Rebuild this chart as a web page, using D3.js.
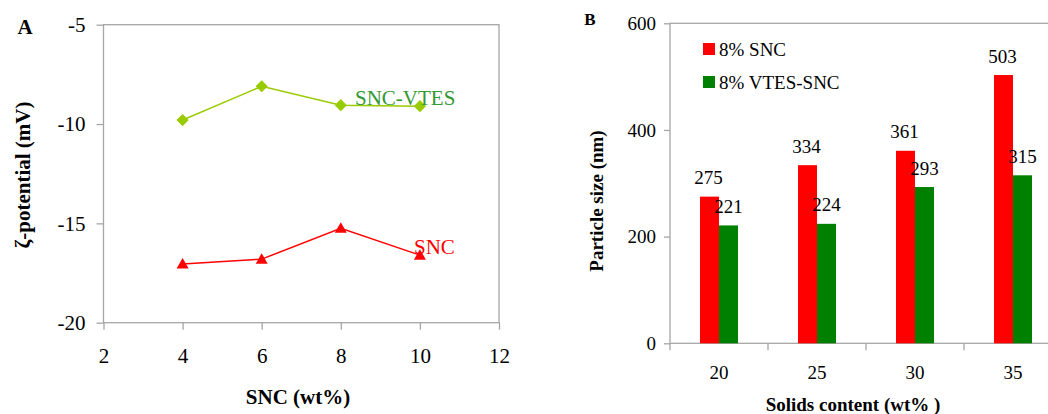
<!DOCTYPE html>
<html>
<head>
<meta charset="utf-8">
<script src="https://cdn.jsdelivr.net/npm/d3@7"></script>
<style>
  body { margin: 0; background: #fff; }
  svg, svg text { font-family: "Liberation Serif", "Times New Roman", serif; }
  .frame { fill: none; stroke: #a6a6a6; stroke-width: 1.3; }
  .axis path, .axis line { stroke: #a6a6a6; stroke-width: 1.3; }
  .axis text { fill: #000; }
</style>
</head>
<body>
<div id="chart"></div>
<script>
// panel A: zeta potential vs SNC loading
const snc = [4, 6, 8, 10];
const zetaVtes = [-9.8, -8.1, -9.05, -9.1];
const zetaSnc = [-17.05, -16.8, -15.25, -16.6];
const xTicksA = [2, 4, 6, 8, 10, 12];
const yTicksA = [-20, -15, -10, -5];

// panel B: particle size vs solids content
const solids = ["20", "25", "30", "35"];
const sizeSnc = [275, 334, 361, 503];
const sizeVtes = [221, 224, 293, 315];
const yTicksB = [0, 200, 400, 600];
const seriesB = ["8% SNC", "8% VTES-SNC"];

const FONT = '"Liberation Serif", "Times New Roman", serif';
const W = 1048, H = 414;
const svg = d3.select("#chart").append("svg").attr("width", W).attr("height", H);

// ---------- A ----------
const mA = { left: 103.5, top: 24.7, right: 499, bottom: 322.7 };
const xA = d3.scaleLinear().domain([2, 12]).range([mA.left, mA.right]);
const yA = d3.scaleLinear().domain([-20, -5]).range([mA.bottom, mA.top]);

const gA = svg.append("g");
gA.append("rect").attr("class", "frame")
  .attr("x", mA.left).attr("y", mA.top)
  .attr("width", mA.right - mA.left).attr("height", mA.bottom - mA.top);

gA.append("g").attr("class", "axis")
  .attr("transform", `translate(0,${mA.bottom})`)
  .call(d3.axisBottom(xA).tickValues(xTicksA).tickSize(7).tickPadding(18).tickFormat(d => String(d)))
  .call(g => g.selectAll("text").style("font-size", "21px"))
  .call(g => g.select(".domain").remove());

gA.append("g").attr("class", "axis")
  .attr("transform", `translate(${mA.left},0)`)
  .call(d3.axisLeft(yA).tickValues(yTicksA).tickSize(7).tickPadding(11).tickFormat(d => String(d)))
  .call(g => g.selectAll("text").style("font-size", "21px"))
  .call(g => g.select(".domain").remove());

const lineA = d3.line().x((d, i) => xA(snc[i])).y(d => yA(d));

gA.append("path").datum(zetaVtes)
  .attr("d", lineA).attr("fill", "none").attr("stroke", "#99cc00").attr("stroke-width", 1.5);
gA.append("path").datum(zetaSnc)
  .attr("d", lineA).attr("fill", "none").attr("stroke", "#ff0000").attr("stroke-width", 1.5);

gA.selectAll(".dia").data(zetaVtes).join("path")
  .attr("class", "dia")
  .attr("transform", (d, i) => `translate(${xA(snc[i])},${yA(d)}) rotate(45)`)
  .attr("d", "M-4.3,-4.3H4.3V4.3H-4.3Z")
  .attr("fill", "#99cc00");

gA.selectAll(".tri").data(zetaSnc).join("path")
  .attr("class", "tri")
  .attr("transform", (d, i) => `translate(${xA(snc[i])},${yA(d)})`)
  .attr("d", "M0,-6L6,4.5H-6Z")
  .attr("fill", "#ff0000");

gA.append("text").attr("x", 355).attr("y", 98).attr("dy", "0.35em")
  .style("font-size", "21px").attr("fill", "#339933").text("SNC-VTES");
gA.append("text").attr("x", 414).attr("y", 247).attr("dy", "0.35em")
  .style("font-size", "21px").attr("fill", "#ff0000").text("SNC");

gA.append("text").attr("x", 298).attr("y", 397).attr("dy", "0.35em")
  .attr("text-anchor", "middle").style("font-size", "21px").style("font-weight", "bold")
  .text("SNC (wt%)");
gA.append("text").attr("transform", "translate(23,175) rotate(-90)").attr("dy", "0.35em")
  .attr("text-anchor", "middle").style("font-size", "21px").style("font-weight", "bold")
  .text("ζ-potential (mV)");
gA.append("text").attr("x", 25).attr("y", 27).attr("dy", "0.35em")
  .attr("text-anchor", "middle").style("font-size", "21px").style("font-weight", "bold")
  .text("A");

// ---------- B ----------
const mB = { left: 670, top: 23.3, right: 1062, bottom: 343.3 };
const xB = d3.scaleBand().domain(solids).range([mB.left, mB.right]);
const sub = d3.scaleBand().domain([0, 1]).range([0, 38]);
const yB = d3.scaleLinear().domain([0, 600]).range([mB.bottom, mB.top]);

const gB = svg.append("g");
gB.append("rect").attr("class", "frame")
  .attr("x", mB.left).attr("y", mB.top)
  .attr("width", mB.right - mB.left).attr("height", mB.bottom - mB.top);

// category boundary ticks
gB.append("g").attr("class", "axis")
  .selectAll("line").data(solids).join("line")
  .attr("x1", d => xB(d)).attr("x2", d => xB(d))
  .attr("y1", mB.bottom).attr("y2", mB.bottom + 7);

gB.append("g").attr("class", "axis")
  .attr("transform", `translate(0,${mB.bottom})`)
  .call(d3.axisBottom(xB).tickSize(0).tickPadding(22))
  .call(g => g.selectAll("text").style("font-size", "19px"))
  .call(g => g.select(".domain").remove());

gB.append("g").attr("class", "axis")
  .attr("transform", `translate(${mB.left},0)`)
  .call(d3.axisLeft(yB).tickValues(yTicksB).tickSize(6).tickPadding(8))
  .call(g => g.selectAll("text").style("font-size", "19px"))
  .call(g => g.select(".domain").remove());

const barData = solids.flatMap((c, i) => [
  { c, s: 0, v: sizeSnc[i] },
  { c, s: 1, v: sizeVtes[i] }
]);
const barColor = ["#ff0000", "#008000"];
const x0 = c => xB(c) + xB.bandwidth() / 2 - 19;

gB.selectAll(".bar").data(barData).join("rect")
  .attr("class", "bar")
  .attr("x", d => x0(d.c) + sub(d.s))
  .attr("width", sub.bandwidth())
  .attr("y", d => yB(d.v))
  .attr("height", d => yB(0) - yB(d.v))
  .attr("fill", d => barColor[d.s]);

gB.selectAll(".lbl").data(barData).join("text")
  .attr("class", "lbl")
  .attr("x", d => x0(d.c) + sub(d.s) + sub.bandwidth() / 2 + (d.s ? 0 : -1))
  .attr("y", d => yB(d.v) - 19)
  .attr("dy", "0.35em")
  .attr("text-anchor", "middle")
  .style("font-size", "19px")
  .text(d => d.v);

// legend
const leg = gB.append("g");
seriesB.forEach((name, i) => {
  const cy = 49 + i * 33;
  leg.append("rect").attr("x", 703).attr("y", cy - 6).attr("width", 12).attr("height", 12)
    .attr("fill", barColor[i]);
  leg.append("text").attr("x", 719).attr("y", cy).attr("dy", "0.35em")
    .style("font-size", "19px").text(name);
});

gB.append("text").attr("x", 853).attr("y", 404).attr("dy", "0.35em")
  .attr("text-anchor", "middle").style("font-size", "19px").style("font-weight", "bold")
  .text("Solids content (wt% )");
gB.append("text").attr("transform", "translate(596,201) rotate(-90)").attr("dy", "0.35em")
  .attr("text-anchor", "middle").style("font-size", "19px").style("font-weight", "bold")
  .text("Particle size (nm)");
gB.append("text").attr("x", 590).attr("y", 19).attr("dy", "0.35em")
  .attr("text-anchor", "middle").style("font-size", "17px").style("font-weight", "bold")
  .text("B");

// make sure every label uses the serif face (axes set their own family)
svg.selectAll("g").attr("font-family", null);
svg.selectAll("text").style("font-family", FONT);
</script>
</body>
</html>
